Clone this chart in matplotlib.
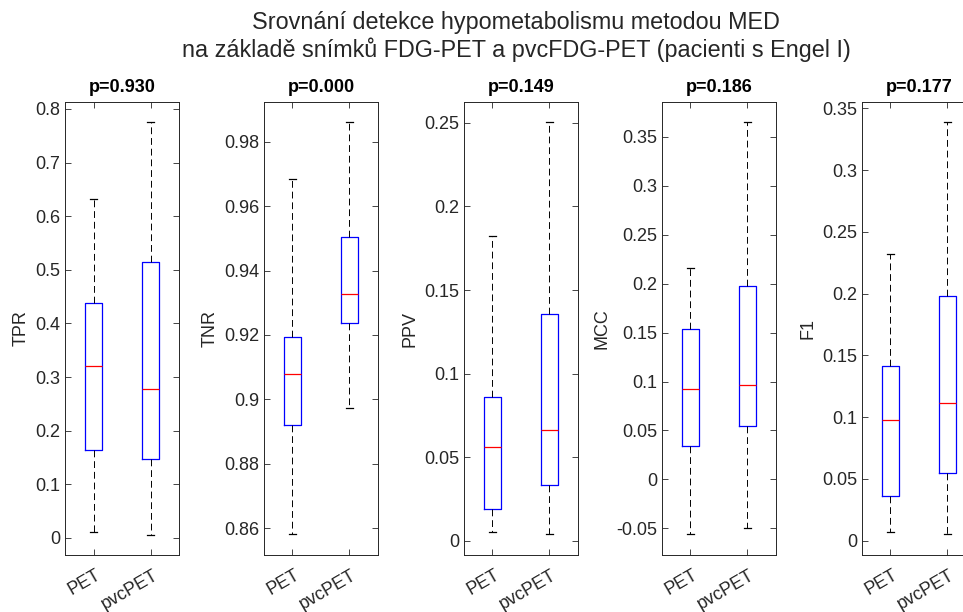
import matplotlib
matplotlib.use('Agg')
import matplotlib.pyplot as plt
import matplotlib.transforms as mtransforms

plt.rcParams['font.family'] = ['Liberation Sans', 'DejaVu Sans']

# hodnoty (PET, pvcPET)
metrics = ['TPR', 'TNR', 'PPV', 'MCC', 'F1']
pvals = ['p=0.930', 'p=0.000', 'p=0.149', 'p=0.186', 'p=0.177']
groups = ['PET', 'pvcPET']

whislo = [[0.011, 0.006], [0.8582, 0.8974], [0.0054, 0.004], [-0.0561, -0.050], [0.0073, 0.0052]]
q1 = [[0.164, 0.148], [0.892, 0.9237], [0.0191, 0.0335], [0.0341, 0.0545], [0.0359, 0.0545]]
med = [[0.321, 0.2775], [0.9079, 0.9326], [0.056, 0.0663], [0.0923, 0.0961], [0.0975, 0.1112]]
q3 = [[0.4385, 0.515], [0.9193, 0.9503], [0.0859, 0.1355], [0.1533, 0.1975], [0.1417, 0.1978]]
whishi = [[0.633, 0.776], [0.9684, 0.986], [0.1825, 0.2502], [0.2162, 0.3648], [0.232, 0.3387]]

ylims = [(-0.032, 0.813), (0.8517, 0.9923), (-0.0084, 0.2624), (-0.0772, 0.3855), (-0.0116, 0.3551)]
yticks = [[0, 0.1, 0.2, 0.3, 0.4, 0.5, 0.6, 0.7, 0.8],
          [0.86, 0.88, 0.9, 0.92, 0.94, 0.96, 0.98],
          [0, 0.05, 0.1, 0.15, 0.2, 0.25],
          [-0.05, 0, 0.05, 0.1, 0.15, 0.2, 0.25, 0.3, 0.35],
          [0, 0.05, 0.1, 0.15, 0.2, 0.25, 0.3, 0.35]]

grey = (0.15, 0.15, 0.15)
fig = plt.figure(figsize=(9.63, 6.12), dpi=100)
lefts = [0.0675, 0.2741, 0.4818, 0.6874, 0.8951]

for k in range(5):
    ax = fig.add_axes([lefts[k], 0.0931, 0.1184, 0.7402])
    stats = []
    for g in range(2):
        stats.append(dict(med=med[k][g], q1=q1[k][g], q3=q3[k][g],
                          whislo=whislo[k][g], whishi=whishi[k][g], fliers=[]))
    ax.bxp(stats, positions=[1, 2], widths=0.3, capwidths=0.12, showfliers=False,
           boxprops=dict(color='b', linewidth=0.9),
           medianprops=dict(color='r', linewidth=0.9),
           whiskerprops=dict(color='k', linewidth=0.7, linestyle=(0, (7, 4))),
           capprops=dict(color='k', linewidth=0.9))
    ax.set_xlim(0.5, 2.5)
    ax.set_ylim(*ylims[k])
    ax.set_yticks(yticks[k])
    ax.set_yticklabels(['%g' % v for v in yticks[k]])
    ax.set_xticks([1, 2])
    ax.set_xticklabels([])
    # popisky osy x natocene o 30 stupnu
    tr = mtransforms.offset_copy(ax.get_xaxis_transform(), fig, x=6, y=-19, units='dots')
    for pos, name in zip([1, 2], groups):
        ax.text(pos, 0, name, transform=tr, rotation=30, ha='right', va='center',
                rotation_mode='anchor', fontsize=13, color=grey)
    ax.tick_params(direction='in', length=4, top=True, right=True, labelsize=13,
                   colors=grey, width=0.6)
    for s in ax.spines.values():
        s.set_color(grey)
        s.set_linewidth(0.7)
    ax.set_ylabel(metrics[k], fontsize=13, color=grey)
    ax.set_title(pvals[k], fontsize=13, fontweight='bold', pad=7)

fig.text(0.536, 0.964, 'Srovnání detekce hypometabolismu metodou MED', ha='center', va='center',
         fontsize=16.8, color=grey)
fig.text(0.536, 0.918, 'na základě snímků FDG-PET a pvcFDG-PET (pacienti s Engel I)', ha='center',
         va='center', fontsize=16.8, color=grey)

fig.savefig('out.png', dpi=100)
